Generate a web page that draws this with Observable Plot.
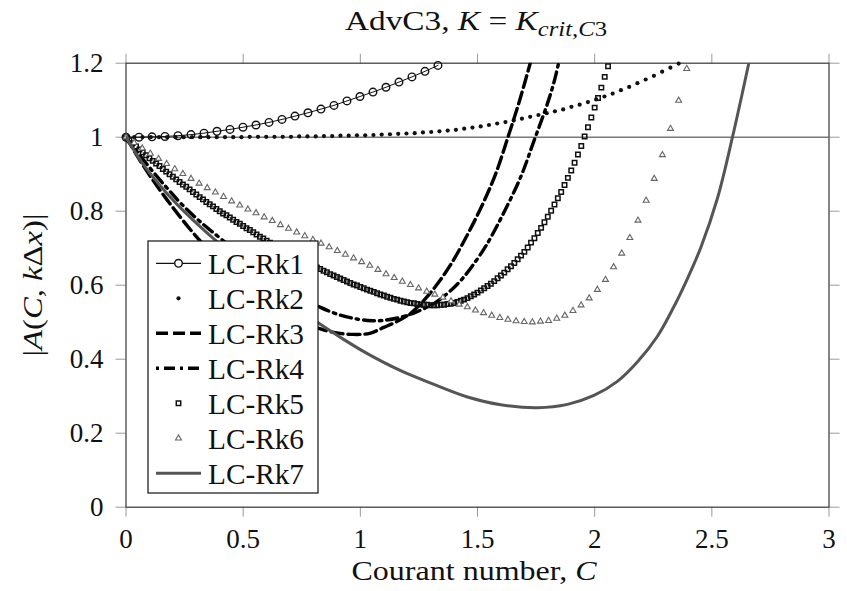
<!DOCTYPE html>
<html><head><meta charset="utf-8">
<script src="https://cdn.jsdelivr.net/npm/d3@7"></script>
<script src="https://cdn.jsdelivr.net/npm/@observablehq/plot@0.6"></script>
<style>
body{margin:0;background:#fff;}
#chart svg{display:block;}
</style></head><body><div id="chart"></div>
<script>
// ---------- data ----------
const seriesNames = ["LC-Rk1","LC-Rk2","LC-Rk3","LC-Rk4","LC-Rk5","LC-Rk6","LC-Rk7"];
const xTicks = [0, 0.5, 1, 1.5, 2, 2.5, 3];
const yTicks = [0, 0.2, 0.4, 0.6, 0.8, 1, 1.2];
const refLine = [1];

// LC-Rk1 (open circles), sampled at C = i * rk1Step
const rk1Step = 0.05547;
const rk1A = [1.000,1.000,1.001,1.002,1.004,1.007,1.011,1.016,1.021,1.027,1.033,1.040,1.048,
  1.057,1.066,1.076,1.086,1.098,1.110,1.122,1.135,1.149,1.163,1.178,1.194];

// LC-Rk2 (dots), sampled at C = i * rk2Step
const rk2Step = 0.0352;
const rk2A = [1.000,1.000,1.000,1.000,1.000,1.000,1.000,1.000,1.000,1.000,1.000,1.000,1.000,1.000,1.000,
  1.001,1.001,1.001,1.001,1.001,1.001,1.002,1.002,1.002,1.003,1.003,1.004,1.004,1.005,1.005,
  1.006,1.007,1.008,1.009,1.010,1.011,1.013,1.014,1.016,1.018,1.020,1.023,1.026,1.029,1.033,
  1.037,1.041,1.045,1.050,1.055,1.060,1.065,1.070,1.075,1.082,1.088,1.095,1.102,1.110,1.118,
  1.127,1.136,1.146,1.156,1.166,1.177,1.188,1.199];

// LC-Rk3 (dashed)
const rk3C = [0,0.05,0.105,0.169,0.233,0.283,0.35,0.45,0.55,0.65,0.75,0.83,0.90,0.97,1.04,1.10,1.16,1.22,1.30,1.38,1.46,1.53,1.58,1.63,1.68,1.725];
const rk3A = [1.000,0.947,0.893,0.836,0.783,0.744,0.697,0.636,0.584,0.540,0.505,0.482,0.471,0.467,0.470,0.486,0.503,0.527,0.580,0.650,0.740,0.830,0.905,1.000,1.100,1.200];

// LC-Rk4 (dash-dotted)
const rk4C = [0,0.06,0.12,0.18,0.233,0.30,0.361,0.45,0.55,0.65,0.75,0.83,0.91,0.99,1.05,1.10,1.17,1.24,1.32,1.393,1.436,1.478,1.528,1.556,1.613,1.684,1.741,1.798,1.827,1.846];
const rk4A = [1.000,0.950,0.903,0.859,0.822,0.781,0.748,0.703,0.655,0.610,0.569,0.540,0.520,0.508,0.504,0.505,0.513,0.528,0.553,0.590,0.618,0.652,0.698,0.728,0.797,0.892,0.990,1.090,1.150,1.200];

// LC-Rk5 (open squares), sampled at C = i * rk5Step
const rk5Step = 1/70;
const rk5A = [1.000,0.992,0.984,0.975,0.967,0.959,0.951,0.943,0.936,0.929,
  0.922,0.914,0.907,0.900,0.893,0.886,0.879,0.872,0.866,0.859,
  0.852,0.845,0.838,0.832,0.825,0.819,0.813,0.806,0.800,0.794,
  0.789,0.783,0.777,0.771,0.766,0.760,0.754,0.749,0.743,0.737,
  0.731,0.726,0.720,0.715,0.710,0.705,0.700,0.695,0.690,0.685,
  0.680,0.676,0.671,0.667,0.662,0.658,0.653,0.648,0.644,0.639,
  0.635,0.630,0.626,0.622,0.618,0.614,0.610,0.606,0.602,0.599,
  0.595,0.592,0.588,0.585,0.582,0.578,0.575,0.572,0.569,0.566,
  0.563,0.561,0.558,0.556,0.554,0.552,0.551,0.549,0.548,0.547,
  0.547,0.546,0.546,0.546,0.547,0.547,0.549,0.550,0.552,0.555,
  0.558,0.561,0.565,0.570,0.575,0.580,0.586,0.592,0.598,0.604,
  0.611,0.619,0.626,0.634,0.643,0.651,0.660,0.670,0.680,0.690,
  0.702,0.715,0.727,0.741,0.755,0.770,0.785,0.801,0.818,0.835,
  0.852,0.871,0.890,0.910,0.931,0.953,0.976,1.002,1.027,1.053,
  1.080,1.106,1.134,1.163,1.192];

// LC-Rk6 (small triangles), sampled at C = i * rk6Step
const rk6Step = 0.03468;
const rk6A = [1.000,0.985,0.970,0.956,0.942,0.928,0.914,0.901,0.888,0.875,
  0.863,0.851,0.839,0.827,0.816,0.805,0.795,0.784,0.774,0.763,
  0.753,0.743,0.733,0.723,0.713,0.703,0.693,0.683,0.673,0.663,
  0.653,0.642,0.630,0.620,0.610,0.601,0.592,0.583,0.575,0.567,
  0.557,0.548,0.541,0.532,0.525,0.518,0.512,0.507,0.503,0.501,
  0.500,0.502,0.504,0.510,0.518,0.531,0.546,0.565,0.588,0.615,
  0.649,0.686,0.728,0.775,0.829,0.888,0.952,1.023,1.099,1.185];

// LC-Rk7 (solid grey)
const rk7C = [0,0.07,0.147,0.22,0.29,0.375,0.46,0.55,0.65,0.74,0.823,0.92,1.03,1.172,1.314,1.457,1.599,1.756,1.884,1.997,2.097,2.183,2.268,2.339,2.396,2.453,2.524,2.588,2.657];
const rk7A = [1.000,0.930,0.868,0.817,0.774,0.725,0.678,0.630,0.578,0.533,0.497,0.457,0.415,0.369,0.332,0.298,0.277,0.269,0.278,0.302,0.340,0.393,0.462,0.543,0.618,0.702,0.835,1.000,1.198];

// ---------- tables built from the arrays ----------
const stepped = (arr, step) => arr.map((A, i) => ({C: i * step, A}));
const paired = (cs, as) => cs.map((C, i) => ({C, A: as[i]}));
const rk1 = stepped(rk1A, rk1Step);
const rk2 = stepped(rk2A, rk2Step);
const rk3 = paired(rk3C, rk3A);
const rk4 = paired(rk4C, rk4A);
const rk5 = stepped(rk5A, rk5Step);
const rk6 = stepped(rk6A, rk6Step);
const rk7 = paired(rk7C, rk7A);

// ---------- styles ----------
const serif = "'Liberation Serif','Times New Roman',serif";
const W = 847, H = 591;
const mL = 125.5, mR = 18.5, mT = 62.7, mB = 84.3;
const tickGrey = "#9a9a9a";
const st = {
  rk1: {stroke: "#111", strokeWidth: 1, r: 3.8, mw: 1.4},
  rk2: {fill: "#111", r: 2.1},
  rk3: {stroke: "#000", strokeWidth: 3.4, dash: "12,5"},
  rk4: {stroke: "#000", strokeWidth: 3.4, dash: "11,5,2.5,5"},
  rk5: {stroke: "#111", r: 2.5, sw: 1.5},
  rk6: {stroke: "#666", r: 2.2, sw: 1.1},
  rk7: {stroke: "#555", strokeWidth: 3}
};

const fmt = d => String(d);

const plot = Plot.plot({
  width: W, height: H,
  marginLeft: mL, marginRight: mR, marginTop: mT, marginBottom: mB,
  style: {fontFamily: serif, fontSize: "27px", color: "#111", background: "#fff", overflow: "visible"},
  x: {domain: [0, 3]},
  y: {domain: [0, 1.2]},
  marks: [
    Plot.ruleY(refLine, {stroke: "#777", strokeWidth: 1.5}),
    Plot.axisX({anchor: "bottom", ticks: xTicks, tickSize: 10, tickPadding: 12, stroke: tickGrey, fill: "#111", tickFormat: fmt, label: null, fontSize: 27}),
    Plot.axisX({anchor: "top", ticks: xTicks, tickSize: 10, stroke: tickGrey, tickFormat: () => "", label: null}),
    Plot.axisY({anchor: "left", ticks: yTicks, tickSize: 10, tickPadding: 12.5, stroke: tickGrey, fill: "#111", tickFormat: fmt, label: null, fontSize: 27}),
    Plot.axisY({anchor: "right", ticks: yTicks, tickSize: 10, stroke: tickGrey, tickFormat: () => "", label: null}),
    Plot.frame({stroke: "#444", strokeWidth: 1.3}),
    // Rk1
    Plot.line(rk1, {x: "C", y: "A", stroke: st.rk1.stroke, strokeWidth: st.rk1.strokeWidth}),
    Plot.dot(rk1, {x: "C", y: "A", r: st.rk1.r, stroke: st.rk1.stroke, fill: "none", strokeWidth: st.rk1.mw}),
    // Rk2
    Plot.dot(rk2, {x: "C", y: "A", r: st.rk2.r, fill: st.rk2.fill, stroke: "none"}),
    // Rk3
    Plot.line(rk3, {x: "C", y: "A", curve: "catmull-rom", stroke: st.rk3.stroke, strokeWidth: st.rk3.strokeWidth, strokeDasharray: st.rk3.dash, clip: true}),
    // Rk4
    Plot.line(rk4, {x: "C", y: "A", curve: "catmull-rom", stroke: st.rk4.stroke, strokeWidth: st.rk4.strokeWidth, strokeDasharray: st.rk4.dash, clip: true}),
    // Rk5
    Plot.dot(rk5, {x: "C", y: "A", symbol: "square", r: st.rk5.r, stroke: st.rk5.stroke, fill: "none", strokeWidth: st.rk5.sw}),
    // Rk6
    Plot.dot(rk6, {x: "C", y: "A", symbol: "triangle", r: st.rk6.r, stroke: st.rk6.stroke, fill: "white", strokeWidth: st.rk6.sw}),
    // Rk7
    Plot.line(rk7, {x: "C", y: "A", curve: "catmull-rom", stroke: st.rk7.stroke, strokeWidth: st.rk7.strokeWidth, clip: true})
  ]
});
document.getElementById("chart").appendChild(plot);

// ---------- title, axis labels, legend ----------
const svg = d3.select(plot);

// title
const title = svg.append("text").attr("x", 476).attr("y", 30).attr("text-anchor", "middle")
  .attr("font-family", serif).attr("font-size", 27).attr("fill", "#111")
  .attr("textLength", 262).attr("lengthAdjust", "spacingAndGlyphs");
title.append("tspan").text("AdvC3, ");
title.append("tspan").attr("font-style", "italic").text("K");
title.append("tspan").text(" = ");
title.append("tspan").attr("font-style", "italic").text("K");
title.append("tspan").attr("font-size", 20).attr("dy", 6).attr("font-style", "italic").text("crit,C");
title.append("tspan").attr("font-size", 20).text("3");

// x label
const xl = svg.append("text").attr("x", 474).attr("y", 580).attr("text-anchor", "middle")
  .attr("font-family", serif).attr("font-size", 27).attr("fill", "#111")
  .attr("textLength", 245).attr("lengthAdjust", "spacingAndGlyphs");
xl.append("tspan").text("Courant number, ");
xl.append("tspan").attr("font-style", "italic").text("C");

// y label
const yl = svg.append("text").attr("transform", "translate(42,285) rotate(-90)").attr("text-anchor", "middle")
  .attr("font-family", serif).attr("font-size", 28).attr("fill", "#111")
  .attr("textLength", 143).attr("lengthAdjust", "spacingAndGlyphs");
yl.append("tspan").text("|");
yl.append("tspan").attr("font-style", "italic").text("A");
yl.append("tspan").text("(");
yl.append("tspan").attr("font-style", "italic").text("C");
yl.append("tspan").text(", ");
yl.append("tspan").attr("font-style", "italic").text("k");
yl.append("tspan").text("Δ");
yl.append("tspan").attr("font-style", "italic").text("x");
yl.append("tspan").text(")|");

// legend
const lg = svg.append("g").attr("text-anchor", "start");
const lx = 148, ly = 241, lw = 170, lh = 252, rowH = 35, row0 = 263.3;
lg.append("rect").attr("x", lx).attr("y", ly).attr("width", lw).attr("height", lh)
  .attr("fill", "white").attr("stroke", "#111").attr("stroke-width", 1.2);
const sx0 = 156, sx1 = 201, sxc = (sx0 + sx1) / 2;
const sym = (type, r) => d3.symbol(type, r * r * Math.PI)();
seriesNames.forEach((name, k) => {
  const yc = row0 + k * rowH;
  const g = lg.append("g");
  if (k === 0) {
    g.append("line").attr("x1", sx0).attr("x2", sx1).attr("y1", yc).attr("y2", yc).attr("stroke", st.rk1.stroke).attr("stroke-width", 1.2);
    g.append("circle").attr("cx", sxc).attr("cy", yc).attr("r", st.rk1.r).attr("fill", "white").attr("stroke", st.rk1.stroke).attr("stroke-width", st.rk1.mw);
  } else if (k === 1) {
    g.append("circle").attr("cx", sxc).attr("cy", yc).attr("r", st.rk2.r).attr("fill", st.rk2.fill);
  } else if (k === 2) {
    g.append("line").attr("x1", sx0).attr("x2", sx1).attr("y1", yc).attr("y2", yc).attr("stroke", st.rk3.stroke).attr("stroke-width", st.rk3.strokeWidth).attr("stroke-dasharray", st.rk3.dash);
  } else if (k === 3) {
    g.append("line").attr("x1", sx0).attr("x2", sx1).attr("y1", yc).attr("y2", yc).attr("stroke", st.rk4.stroke).attr("stroke-width", st.rk4.strokeWidth).attr("stroke-dasharray", "3,5,11,5");
  } else if (k === 4) {
    g.append("path").attr("transform", `translate(${sxc},${yc})`).attr("d", sym(d3.symbolSquare, st.rk5.r)).attr("fill", "white").attr("stroke", st.rk5.stroke).attr("stroke-width", st.rk5.sw);
  } else if (k === 5) {
    g.append("path").attr("transform", `translate(${sxc},${yc})`).attr("d", sym(d3.symbolTriangle, st.rk6.r)).attr("fill", "white").attr("stroke", st.rk6.stroke).attr("stroke-width", st.rk6.sw);
  } else {
    g.append("line").attr("x1", sx0).attr("x2", sx1).attr("y1", yc).attr("y2", yc).attr("stroke", st.rk7.stroke).attr("stroke-width", st.rk7.strokeWidth);
  }
  g.append("text").attr("x", 208).attr("y", yc).attr("dy", "0.36em").attr("text-anchor", "start")
    .attr("font-family", serif).attr("font-size", 30).attr("textLength", 96).attr("lengthAdjust", "spacingAndGlyphs")
    .attr("fill", "#111").text(name);
});
</script>
</body></html>
